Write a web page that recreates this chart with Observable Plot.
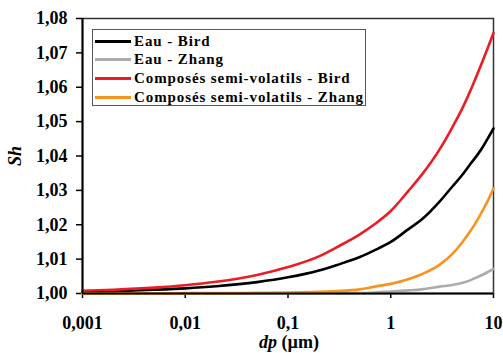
<!DOCTYPE html>
<html>
<head>
<meta charset="utf-8">
<script src="https://cdn.jsdelivr.net/npm/d3@7"></script>
<script src="https://cdn.jsdelivr.net/npm/@observablehq/plot@0.6"></script>
<style>
  html, body { margin: 0; padding: 0; background: #fff; }
  #wrap { position: relative; width: 503px; height: 353px; font-family: "Liberation Serif", "Times New Roman", serif; }
  #legend { position: absolute; left: 92px; top: 29px; width: 272px; height: 75px; border: 1px solid #555; background: #fff; }
  .row { position: absolute; left: 0; height: 18px; display: flex; align-items: center; }
  .sw { width: 36px; height: 3px; margin-left: 2px; margin-right: 3px; }
  .lb { font-weight: bold; font-size: 15px; letter-spacing: 0.9px; white-space: nowrap; color: #000; }
</style>
</head>
<body>
<div id="wrap"></div>
<script>
// Diamètre de particule (µm)
const dp = [0.001, 0.002, 0.005, 0.01, 0.02, 0.05, 0.1, 0.2, 0.3, 0.5, 0.7, 1, 1.5, 2, 3, 4, 5, 6, 7, 8, 9, 10];
// Séries (Sh)
const eauBird   = [1.0005, 1.0007, 1.0011, 1.0015, 1.0021, 1.0033, 1.0047, 1.0067, 1.0083, 1.0106, 1.0126, 1.0150, 1.0188, 1.0215, 1.0268, 1.0312, 1.0346, 1.0378, 1.0404, 1.0430, 1.0456, 1.0480];
const eauZhang  = [1.0000, 1.0000, 1.0000, 1.0000, 1.0000, 1.0000, 1.0000, 1.0000, 1.0000, 1.0001, 1.0003, 1.0006, 1.0009, 1.0012, 1.0020, 1.0025, 1.0031, 1.0039, 1.0048, 1.0056, 1.0064, 1.0072];
const svBird    = [1.0008, 1.0011, 1.0017, 1.0024, 1.0034, 1.0054, 1.0077, 1.0108, 1.0135, 1.0172, 1.0202, 1.0240, 1.0300, 1.0345, 1.0420, 1.0485, 1.0540, 1.0592, 1.0640, 1.0683, 1.0722, 1.0758];
const svZhang   = [1.0000, 1.0000, 1.0000, 1.0001, 1.0001, 1.0002, 1.0003, 1.0005, 1.0007, 1.0012, 1.0020, 1.0028, 1.0042, 1.0056, 1.0084, 1.0116, 1.0150, 1.0183, 1.0215, 1.0246, 1.0276, 1.0306];

const seriesNames = ["Eau - Bird", "Eau - Zhang", "Composés semi-volatils - Bird", "Composés semi-volatils - Zhang"];
const seriesColors = ["#000000", "#ababab", "#ec1c24", "#f7941d"];
const seriesValues = [eauBird, eauZhang, svBird, svZhang];
const drawOrder = [1, 0, 2, 3];

const xTicks = [0.001, 0.01, 0.1, 1, 10];
const yTicks = [1.00, 1.01, 1.02, 1.03, 1.04, 1.05, 1.06, 1.07, 1.08];

const fr = d3.formatLocale({decimal: ",", thousands: " ", grouping: [3], currency: ["", ""]});
const fmtY = fr.format(".2f");
const fmtX = d => String(d).replace(".", ",");

const rows = [];
for (const i of drawOrder) {
  dp.forEach((x, j) => rows.push({dp: x, sh: seriesValues[i][j], s: seriesNames[i], k: i}));
}

const plot = Plot.plot({
  width: 503,
  height: 353,
  marginLeft: 82,
  marginRight: 10,
  marginTop: 18,
  marginBottom: 60,
  style: {fontFamily: "'Liberation Serif', 'Times New Roman', serif", fontWeight: "bold", fontSize: "18px", color: "#000", background: "#fff"},
  x: {type: "log", domain: [0.001, 10], ticks: xTicks, tickFormat: fmtX, tickSize: 5, tickPadding: 18, label: null},
  y: {domain: [1.0, 1.08], ticks: yTicks, tickFormat: fmtY, tickSize: 6, tickPadding: 9, label: null},
  color: {domain: seriesNames, range: seriesColors},
  marks: [
    Plot.frame({stroke: "#333", strokeWidth: 1.5}),
    ...drawOrder.map(i => Plot.line(rows.filter(r => r.k === i), {x: "dp", y: "sh", stroke: "s", strokeWidth: 2.6, curve: "monotone-x"})),
    Plot.ruleY([1.0], {stroke: "#000", strokeWidth: 2}),
    Plot.ruleX([0.001], {stroke: "#000", strokeWidth: 2})
  ]
});

const svg = d3.select(plot);
svg.selectAll("[aria-label='x-axis tick'] path, [aria-label='y-axis tick'] path").attr("stroke-width", 1.5);
// Titres d'axes
const yt = svg.append("text")
  .attr("transform", "translate(21,156) rotate(-90)")
  .attr("text-anchor", "middle")
  .attr("font-family", "'Liberation Serif', 'Times New Roman', serif")
  .attr("font-weight", "bold").attr("font-size", 18).attr("font-style", "italic")
  .text("Sh");
const xt = svg.append("text")
  .attr("x", 289).attr("y", 348)
  .attr("text-anchor", "middle")
  .attr("font-family", "'Liberation Serif', 'Times New Roman', serif")
  .attr("font-weight", "bold").attr("font-size", 18);
xt.append("tspan").attr("font-style", "italic").text("dp");
xt.append("tspan").text("\u00a0(µm)");

const wrap = document.getElementById("wrap");
wrap.appendChild(plot);

// Légende
const lg = document.createElement("div");
lg.id = "legend";
seriesNames.forEach((n, i) => {
  const r = document.createElement("div");
  r.className = "row";
  r.style.top = (2 + i * 18.7) + "px";
  const sw = document.createElement("div");
  sw.className = "sw";
  sw.style.background = seriesColors[i];
  const lb = document.createElement("span");
  lb.className = "lb";
  lb.textContent = n;
  r.appendChild(sw); r.appendChild(lb);
  lg.appendChild(r);
});
wrap.appendChild(lg);
</script>
</body>
</html>
